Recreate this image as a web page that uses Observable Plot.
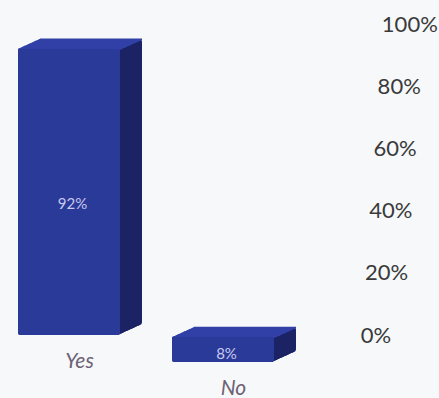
<!DOCTYPE html>
<html>
<head>
<meta charset="utf-8">
<script src="https://cdn.jsdelivr.net/npm/d3@7"></script>
<script src="https://cdn.jsdelivr.net/npm/@observablehq/plot@0.6"></script>
<style>
  html, body { margin: 0; padding: 0; background: #f6f8fa; }
  #chart { width: 439px; height: 398px; }
</style>
</head>
<body>
<div id="chart"></div>
<script>
// Survey answers, share of respondents (%)
const categories = ["Yes", "No"];
const shares = [92, 8];
const yTicks = [0, 20, 40, 60, 80, 100];

const rows = categories.map((category, i) => ({category, share: shares[i]}));

// Block styling: front, top and side faces of each extruded bar
const frontColor = "#2a3a98";
const topColor = "#3141a6";
const sideColor = "#1b2364";
const depthX = 22;        // extrusion to the right
const depthY = -10;       // extrusion upward
const sink = [0, 27];     // each block sits a little lower going right (perspective)
const valueShift = [12, 4];

const marks = [];
rows.forEach((row, i) => {
  const data = [row];
  // side / back of the block
  for (let k = depthX; k >= 0; k -= 1) {
    marks.push(Plot.barY(data, {
      x: "category", y: "share",
      dx: k, dy: sink[i] + k * depthY / depthX,
      fill: sideColor, rx: 3
    }));
  }
  // top face
  for (let k = 0; k <= depthX; k += 1) {
    marks.push(Plot.tickY(data, {
      x: "category", y: "share",
      dx: k, dy: sink[i] + k * depthY / depthX,
      stroke: topColor, strokeWidth: 1.6
    }));
  }
  // front face
  marks.push(Plot.barY(data, {
    x: "category", y: "share", dy: sink[i], fill: frontColor, rx: 2
  }));
  // value inside the block
  marks.push(Plot.text(data, {
    x: "category", y: d => d.share / 2,
    text: d => `${d.share}%`,
    dx: 3, dy: sink[i] + valueShift[i],
    fill: "#c8c8f0", fontSize: 15
  }));
  // category name under the block
  marks.push(Plot.text(data, {
    x: "category", y: 0, text: "category",
    dx: 10, dy: sink[i] + 26,
    fill: "#6e6274", fontSize: 21, fontStyle: "italic"
  }));
});

marks.push(Plot.axisY(yTicks, {
  anchor: "right", tickSize: 0, tickPadding: 0, label: null,
  tickFormat: d => `${d}%`, textAnchor: "start",
  fontSize: 22, fill: "#3a3a3a"
}));

const chart = Plot.plot({
  width: 439,
  height: 398,
  marginTop: 0, marginBottom: 0, marginLeft: 0, marginRight: 56,
  style: {background: "transparent", fontFamily: "Lato, 'Open Sans', sans-serif"},
  x: {domain: categories, range: [18, 274], paddingInner: 0.34, paddingOuter: 0, axis: null},
  y: {domain: [0, 100], range: [335, 24], axis: null},
  marks
});

// lean the tick-label column slightly, keeping each glyph upright
const labels = d3.select(chart).select('g[aria-label="y-axis tick label"]');
if (!labels.empty()) {
  const lean = -3.9;
  labels.attr("transform", `${labels.attr("transform") || ""} skewX(${lean})`);
  labels.selectAll("text").attr("transform", function () {
    return `${this.getAttribute("transform") || ""} skewX(${-lean})`;
  });
}

document.getElementById("chart").appendChild(chart);
</script>
</body>
</html>
